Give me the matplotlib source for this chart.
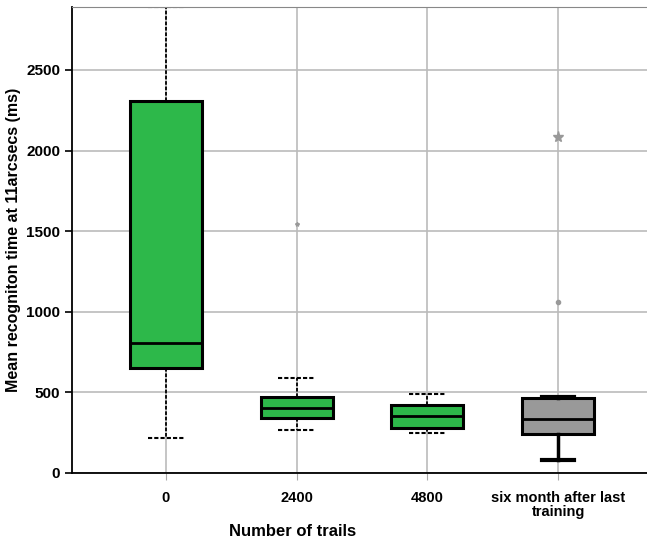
import matplotlib.pyplot as plt

# Значения (мс)
groups = ['0', '2400', '4800', 'six month after last\ntraining']
q1 = [651, 341, 281, 244]
med = [805, 405, 352, 335]
q3 = [2310, 470, 420, 465]
whislo = [215, 267, 246, 79]
whishi = [2889, 587, 488, 471]
fliers = [[], [1543], [], [1063, 2082]]
box_colors = ['#2db84a', '#2db84a', '#2db84a', '#999999']

stats = []
for i, name in enumerate(groups):
    stats.append(dict(label=name, q1=q1[i], med=med[i], q3=q3[i],
                      whislo=whislo[i], whishi=whishi[i], fliers=fliers[i]))

plt.rcParams['font.family'] = ['Liberation Sans Narrow', 'Liberation Sans', 'DejaVu Sans']

fig = plt.figure(figsize=(6.47, 5.41), dpi=100)
ax = fig.add_axes([0.111, 0.1257, 0.889, 0.8613])

pos = list(range(len(groups)))
for i in pos:
    dashed = i < 3
    ax.bxp([stats[i]], positions=[i], widths=0.55, patch_artist=True,
           showfliers=False,
           boxprops=dict(facecolor=box_colors[i], edgecolor='black', linewidth=2.2),
           medianprops=dict(color='black', linewidth=2),
           whiskerprops=dict(color='black', linewidth=1.3 if dashed else 2.5,
                             linestyle=(0, (2, 1)) if dashed else '-'),
           capprops=dict(color='black', linewidth=1.5 if dashed else 3,
                         linestyle=(0, (2, 1)) if dashed else '-'),
           capwidths=0.28 if dashed else 0.24)

# выбросы
ax.plot([1], [fliers[1][0]], marker='*', color='#999999', markersize=3, linestyle='none')
ax.plot([3], [fliers[3][0]], marker='o', color='#999999', markersize=3, linestyle='none')
ax.plot([3], [fliers[3][1]], marker='*', color='#999999', markersize=8, linestyle='none')

ax.set_xlim(-0.72, 3.68)
ax.set_ylim(0, 2890)
ax.set_yticks([0, 500, 1000, 1500, 2000, 2500])
ax.set_xticks(pos)
ax.set_xticklabels(groups, fontsize=10.5, fontweight='bold', linespacing=0.95)
ax.tick_params(axis='y', labelsize=11, width=1.2, length=5)
for t in ax.get_yticklabels():
    t.set_fontweight('bold')
ax.tick_params(axis='x', length=5, color='#aaaaaa', pad=8)

ax.grid(True, color='#bbbbbb', linewidth=1.2)
ax.set_axisbelow(True)
ax.spines['right'].set_visible(False)
ax.spines['top'].set_color('#888888')
ax.spines['left'].set_linewidth(1.3)
ax.spines['bottom'].set_linewidth(1.3)

ax.set_ylabel('Mean recogniton time at 11arcsecs (ms)', fontsize=11.5,
              fontweight='bold', family=['Liberation Sans', 'DejaVu Sans'])
ax.yaxis.set_label_coords(-0.088, 0.5)
fig.text(293 / 647, 1 - 532 / 541, 'Number of trails', fontsize=12,
         fontweight='bold', ha='center', va='center')

fig.savefig('out.png', dpi=100)
